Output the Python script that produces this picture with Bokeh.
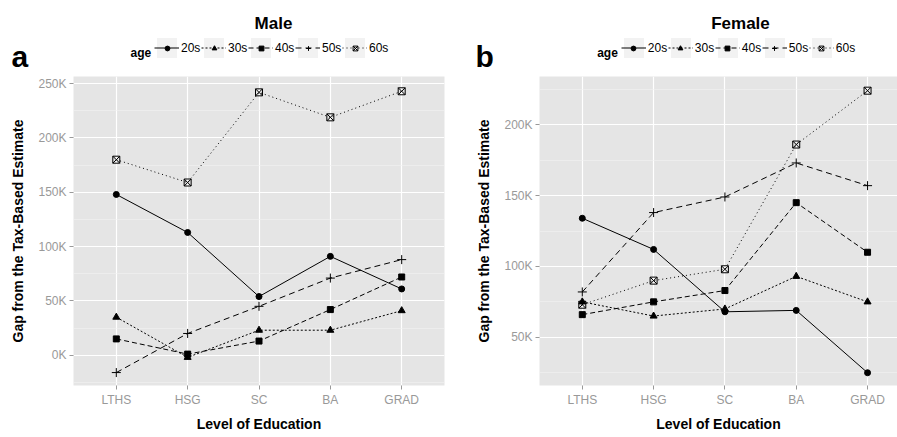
from bokeh.plotting import figure
from bokeh.models import (Range1d, FixedTicker, PrintfTickFormatter, Label,
                          Legend, LegendItem)
from bokeh.layouts import row, column
from bokeh.embed import file_html
from bokeh.resources import INLINE

# ---- data (gap in thousands of dollars) ----
levels = ["LTHS", "HSG", "SC", "BA", "GRAD"]
ages = ["20s", "30s", "40s", "50s", "60s"]

male_20s = [148, 113, 54, 91, 61]
male_30s = [35, -2, 23, 23, 41]
male_40s = [15, 1, 13, 42, 72]
male_50s = [-16, 20, 45, 71, 88]
male_60s = [180, 159, 242, 219, 243]

female_20s = [134, 112, 68, 69, 25]
female_30s = [75, 65, 70, 93, 75]
female_40s = [66, 75, 83, 145, 110]
female_50s = [82, 138, 149, 173, 157]
female_60s = [73, 90, 98, 186, 224]

male_ticks = [0, 50, 100, 150, 200, 250]
male_minor = [-25, 25, 75, 125, 175, 225]
female_ticks = [50, 100, 150, 200]
female_minor = [25, 75, 125, 175, 225]

# ---- styles ----
markers = ["circle", "triangle", "square", "cross", "square_x"]
msizes = [6, 7, 6, 9, 7]
dashes = ["solid", "2 2", "5 3", "6 4", "1 3"]
FONT = "Liberation Sans"
BG = "#E5E5E5"
HEAD_H = 76

xs = list(range(1, len(levels) + 1))


def add_line(p, x, vals, dash):
    return p.line(x, vals, line_color="black", line_width=1, line_dash=dash)


def add_marks(p, x, vals, mk, ms):
    sc = p.scatter(x, vals, marker=mk, size=ms, fill_color="black",
                   line_color="black", line_width=1)
    if mk == "square_x":
        sc.glyph.fill_color = None
    return sc


def header(width, title, title_x, letter, letter_x, age_x, legend_x):
    h = figure(width=width, height=HEAD_H, output_backend="svg", toolbar_location=None,
               x_range=Range1d(0, width), y_range=Range1d(0, HEAD_H),
               x_axis_location=None, y_axis_location=None, min_border=0)
    h.grid.visible = False
    h.outline_line_color = None
    h.background_fill_color = "white"
    h.border_fill_color = "white"

    nan = float("nan")
    bg = h.quad(left=[nan], right=[nan], top=[nan], bottom=[nan],
                fill_color="#F2F2F2", line_color=None)
    items_a, items_b = [], []
    for age, mk, dash in zip(ages, markers, dashes):
        ln = add_line(h, [nan], [nan], dash)
        sc = add_marks(h, [nan], [nan], mk, 5)
        items_a.append(LegendItem(label=age, renderers=[bg, ln]))
        items_b.append(LegendItem(label=" ", renderers=[sc]))
    common = dict(orientation="horizontal", padding=0, margin=0, spacing=0,
                  label_text_font=FONT, label_text_font_size="12px",
                  label_text_color="black",
                  background_fill_alpha=0, border_line_color=None)
    leg_a = Legend(items=items_a, location=(legend_x, 16), glyph_width=25,
                   glyph_height=25, label_standoff=2, label_width=20, **common)
    leg_b = Legend(items=items_b, location=(legend_x + 6.5, 22.5), glyph_width=12,
                   glyph_height=12, label_standoff=0, label_width=35,
                   label_height=12, **common)
    h.add_layout(leg_a, "center")
    h.add_layout(leg_b, "center")

    h.add_layout(Label(x=age_x, y=HEAD_H - 52, text="age", text_color="black",
                       text_font=FONT, text_font_size="12px", text_font_style="bold",
                       text_baseline="alphabetic"))
    h.add_layout(Label(x=title_x, y=HEAD_H - 23, text=title, text_color="black",
                       text_font=FONT, text_font_size="17px", text_font_style="bold",
                       text_align="center", text_baseline="alphabetic"))
    h.add_layout(Label(x=letter_x, y=4, text=letter, text_color="black",
                       text_font=FONT, text_font_size="30px", text_font_style="bold",
                       text_baseline="bottom"))
    return h


def panel(series, ticks, minor, y0, y1, x1, width, bl, br):
    p = figure(width=width, height=437 - HEAD_H, output_backend="svg",
               toolbar_location=None,
               x_range=Range1d(0.4, x1), y_range=Range1d(y0, y1),
               min_border_left=bl, min_border_right=br, min_border_top=0,
               min_border_bottom=52)
    p.background_fill_color = BG
    p.border_fill_color = "white"
    p.outline_line_color = None

    p.xgrid.ticker = FixedTicker(ticks=xs)
    p.ygrid.ticker = FixedTicker(ticks=ticks, minor_ticks=minor)
    for g in (p.xgrid, p.ygrid):
        g.grid_line_color = "white"
        g.grid_line_width = 1.2
    p.ygrid.minor_grid_line_color = "#F2F2F2"
    p.ygrid.minor_grid_line_width = 0.6

    p.xaxis.ticker = FixedTicker(ticks=xs)
    p.xaxis.major_label_overrides = {x: lab for x, lab in zip(xs, levels)}
    p.yaxis.ticker = FixedTicker(ticks=ticks)
    p.yaxis.formatter = PrintfTickFormatter(format="%dK")
    for ax in (p.xaxis, p.yaxis):
        ax.axis_line_color = None
        ax.major_tick_line_color = "#999999"
        ax.major_tick_out = 4
        ax.major_tick_in = 0
        ax.minor_tick_line_color = None
        ax.major_label_text_font = FONT
        ax.major_label_text_font_size = "12px"
        ax.major_label_text_color = "#999999"
        ax.major_label_standoff = 3
        ax.axis_label_text_font = FONT
        ax.axis_label_text_font_size = "14px"
        ax.axis_label_text_font_style = "bold"
        ax.axis_label_text_color = "black"
    p.xaxis.axis_label = "Level of Education"
    p.xaxis.axis_label_standoff = 6
    p.yaxis.axis_label = "Gap from the Tax-Based Estimate"
    p.yaxis.axis_label_standoff = 9

    for vals, mk, ms, dash in zip(series, markers, msizes, dashes):
        add_line(p, xs, vals, dash)
        add_marks(p, xs, vals, mk, ms)
    return p


h1 = header(450, "Male", 273, "a", 11, 130, 154)
h2 = header(447, "Female", 290, "b", 25, 146.7, 170.8)
p1 = panel([male_20s, male_30s, male_40s, male_50s, male_60s],
           male_ticks, male_minor, -27.9, 256.6, 5.6, 450, 73, 6)
p2 = panel([female_20s, female_30s, female_40s, female_50s, female_60s],
           female_ticks, female_minor, 16, 234, 5.42, 447, 89, 0)

layout = column(row(h1, h2), row(p1, p2))
open("out.html", "w").write(file_html(layout, INLINE))
